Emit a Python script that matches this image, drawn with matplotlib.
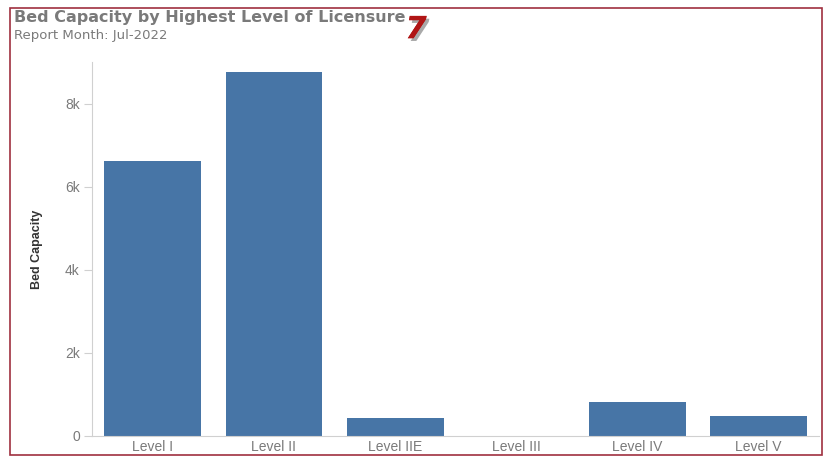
import matplotlib.pyplot as plt
import matplotlib.patheffects as pe
from matplotlib.patches import Rectangle
from matplotlib.ticker import FuncFormatter

# values
levels = ['Level I', 'Level II', 'Level IIE', 'Level III', 'Level IV', 'Level V']
beds = [6620, 8760, 430, 0, 810, 470]

title = 'Bed Capacity by Highest Level of Licensure'
subtitle = 'Report Month: Jul-2022'
bar_color = '#4775a6'
grey = '#7a7a7a'

narrow = ['Liberation Sans Narrow', 'Liberation Sans', 'DejaVu Sans']

fig = plt.figure(figsize=(8.24, 4.57), dpi=100)
ax = fig.add_axes([0.112, 0.046, 0.882, 0.818])

x = range(len(levels))
ax.bar(x, beds, width=0.8, color=bar_color)
ax.set_xlim(-0.5, 5.5)
ax.set_ylim(0, 9000)
ax.set_yticks([0, 2000, 4000, 6000, 8000])
ax.yaxis.set_major_formatter(FuncFormatter(lambda v, p: '0' if v == 0 else f'{int(v/1000)}k'))
ax.set_xticks(list(x))
ax.set_xticklabels(levels)

# axis styling
for s in ['top', 'right']:
    ax.spines[s].set_visible(False)
ax.spines['left'].set_color('#d0d0d0')
ax.spines['bottom'].set_color('#d0d0d0')
ax.tick_params(axis='y', length=6, color='#d0d0d0', labelcolor=grey, labelsize=10, pad=3)
ax.tick_params(axis='x', length=0, labelcolor=grey, labelsize=10, pad=3)
for lab in ax.get_xticklabels() + ax.get_yticklabels():
    lab.set_family(narrow)
ax.set_ylabel('Bed Capacity', family=narrow, fontsize=9, fontweight='bold', color='#333333', labelpad=16)

# titles
fig.text(0.017, 0.962, title, fontsize=11.5, fontweight='bold', color=grey, va='center')
fig.text(0.017, 0.923, subtitle, fontsize=9.5, color=grey, va='center')
fig.text(0.492, 0.935, '7', fontsize=22, fontweight='bold', style='italic', color='#b01515', va='center',
         path_effects=[pe.withSimplePatchShadow(offset=(2, -2), shadow_rgbFace='#555555', alpha=0.5), pe.Normal()])

# red frame around the screenshot
fig.patches.append(Rectangle((0.012, 0.004), 0.985, 0.978, transform=fig.transFigure,
                             fill=False, edgecolor='#a03040', linewidth=1.2))

fig.savefig('out.png', dpi=100)
